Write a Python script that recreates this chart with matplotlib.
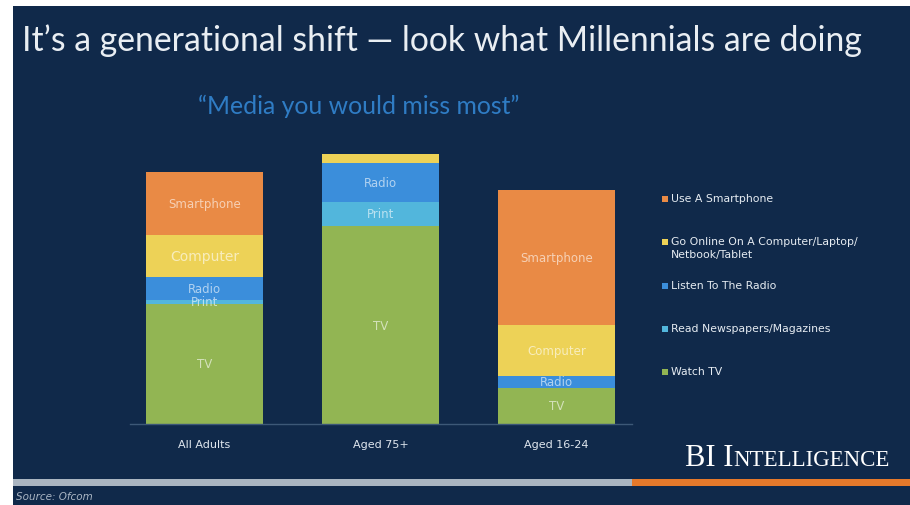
import matplotlib
matplotlib.use("Agg")
import matplotlib.pyplot as plt
from matplotlib.patches import Rectangle
from matplotlib.offsetbox import TextArea, HPacker, AnnotationBbox
import numpy as np

# ---------------- data ----------------
groups = ["All Adults", "Aged 75+", "Aged 16-24"]
tv = [40, 66, 12]
print_media = [1.5, 8, 0]
radio = [7.5, 13, 4]
computer = [14, 3, 17]
smartphone = [21, 0, 45]

segment_labels = ["TV", "Print", "Radio", "Computer", "Smartphone"]
legend_labels = ["Watch TV", "Read Newspapers/Magazines", "Listen To The Radio",
                 "Go Online On A Computer/Laptop/\nNetbook/Tablet", "Use A Smartphone"]
title = "It\u2019s a generational shift \u2014 look what Millennials are doing"
subtitle = "\u201cMedia you would miss most\u201d"

# ---------------- style ----------------
colors = ["#92b553", "#52b6dc", "#3b8edb", "#edd257", "#e98a45"]
NAVY = "#10294a"
W, H = 910, 506

fig = plt.figure(figsize=(W / 100, H / 100), dpi=100, facecolor="white")


def fx(px):
    return px / W


def fy(py):
    return 1 - py / H


# slide background
fig.add_artist(Rectangle((fx(13), 0), 1 - fx(13), fy(7), transform=fig.transFigure,
                         facecolor=NAVY, edgecolor="none", zorder=0))
# bottom stripe
fig.add_artist(Rectangle((fx(13), fy(487)), fx(632) - fx(13), (487 - 480) / H,
                         transform=fig.transFigure, facecolor="#aab5c1",
                         edgecolor="none", zorder=1))
fig.add_artist(Rectangle((fx(632), fy(487)), 1 - fx(632), (487 - 480) / H,
                         transform=fig.transFigure, facecolor="#e5792b",
                         edgecolor="none", zorder=1))

renderer = fig.canvas.get_renderer()


def fit_text(x_px, y_px, s, width_px, **kw):
    t = fig.text(fx(x_px), fy(y_px), s, **kw)
    w = t.get_window_extent(renderer).width
    t.set_fontsize(t.get_fontsize() * width_px / w)
    return t


FAM = ["Lato", "DejaVu Sans"]
fit_text(22, 51, title, 840, fontsize=24, color="#e9eef3", family=FAM,
         va="baseline", ha="left")
fit_text(198, 114, subtitle, 322, fontsize=14, color="#2f7cc4", family=FAM,
         va="baseline", ha="left")

# ---------------- chart ----------------
ax = fig.add_axes([fx(130), fy(425), fx(632) - fx(130), (425 - 149) / H])
ax.set_facecolor("none")
x = np.arange(len(groups))
series = [tv, print_media, radio, computer, smartphone]
bottom = np.zeros(len(groups))
for vals, col, lab in zip(series, colors, segment_labels):
    vals = np.array(vals, dtype=float)
    ax.bar(x, vals, 0.665, bottom=bottom, color=col, linewidth=0, zorder=2)
    for i, v in enumerate(vals):
        if v >= 4 or (lab == "Print" and v > 0):
            fs = 10 if (lab == "Computer" and v >= 14 and i == 0) else 8.5
            ax.text(x[i], bottom[i] + v / 2, lab, ha="center", va="center",
                    color="white", alpha=0.6, fontsize=fs, zorder=3)
    bottom += vals

ax.set_xlim(-0.423, 2.429)
ax.set_ylim(0, 92)
for s in ["top", "right", "left"]:
    ax.spines[s].set_visible(False)
ax.spines["bottom"].set_color("#3d5877")
ax.spines["bottom"].set_linewidth(1)
ax.set_yticks([])
ax.set_xticks(x, groups)
ax.tick_params(axis="x", length=0, pad=11, labelsize=8, labelcolor="#dfe6ee")

# ---------------- legend (manual) ----------------
for k, idx in enumerate(range(len(legend_labels) - 1, -1, -1)):
    yc = 200 + 43.3 * k
    fig.add_artist(Rectangle((fx(662), fy(yc + 3)), 6 / W, 6 / H,
                             transform=fig.transFigure, facecolor=colors[idx],
                             edgecolor="none", zorder=3))
    fig.text(fx(671), fy(yc - 6), legend_labels[idx], ha="left", va="top",
             fontsize=7.8, color="#e6ecf2", linespacing=1.3)

# ---------------- branding / source ----------------
serif = dict(family="Liberation Serif", color="white")
pack = HPacker(children=[TextArea("BI I", textprops=dict(fontsize=22, **serif)),
                         TextArea("NTELLIGENCE", textprops=dict(fontsize=16.5, **serif))],
               align="baseline", pad=0, sep=0)
fig.add_artist(AnnotationBbox(pack, (fx(890), fy(473)), xycoords="figure fraction",
                              box_alignment=(1, 0), frameon=False, pad=0))

fig.text(fx(16), fy(497), "Source: Ofcom", style="italic", fontsize=7.5,
         color="#aab6c4", va="center", ha="left")

fig.savefig("out.png", dpi=100, facecolor="white")
